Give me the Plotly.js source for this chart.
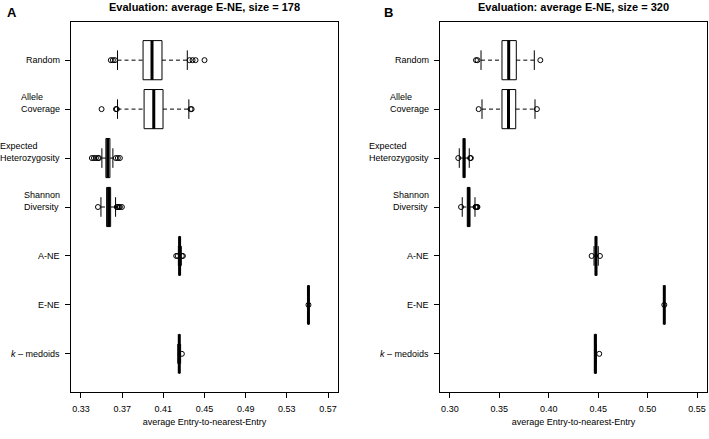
<!DOCTYPE html>
<html><head><meta charset="utf-8">
<script src="https://cdn.plot.ly/plotly-3.0.1.min.js"></script>
<style>html,body{margin:0;padding:0;background:#fff}#chart{width:709px;height:439px}</style>
</head><body><div id="chart"></div>
<script>
// ---- data ----
const methods = ['Random', 'Allele<br>Coverage', 'Expected<br>Heterozygosity', 'Shannon<br>Diversity', 'A-NE', 'E-NE', '<i>k</i> – medoids'];
const positions = [1, 2, 3, 4, 5, 6, 7];

const titleA = 'Evaluation: average E-NE, size = 178';
const titleB = 'Evaluation: average E-NE, size = 320';
const xTitle = 'average Entry-to-nearest-Entry';

const xTicksA = [0.33, 0.37, 0.41, 0.45, 0.49, 0.53, 0.57];
const xTicksB = [0.30, 0.35, 0.40, 0.45, 0.50, 0.55];

// Panel A (size = 178)
const q1A  = [0.3903, 0.3913, 0.3542, 0.3549, 0.4255, 0.5510, 0.4253];
const medA = [0.3990, 0.4007, 0.3560, 0.3568, 0.4258, 0.5510, 0.4255];
const q3A  = [0.4087, 0.4097, 0.3581, 0.3588, 0.4262, 0.5510, 0.4258];
const loA  = [0.3655, 0.3655, 0.3503, 0.3494, 0.4246, 0.5510, 0.4240];
const hiA  = [0.4333, 0.4348, 0.3610, 0.3636, 0.4275, 0.5510, 0.4268];
const outA = [
  [0.3590, 0.3610, 0.3630, 0.4355, 0.4384, 0.4413, 0.4500],
  [0.3500, 0.3640, 0.3648, 0.4365, 0.4375],
  [0.3406, 0.3426, 0.3445, 0.3465, 0.3474, 0.3639, 0.3658, 0.3678],
  [0.3465, 0.3648, 0.3658, 0.3668, 0.3678, 0.3697],
  [0.4225, 0.4240, 0.4280, 0.4290],
  [0.5510],
  [0.4280]
];

// Panel B (size = 320)
const q1B  = [0.3527, 0.3527, 0.3136, 0.3176, 0.4472, 0.5169, 0.4466];
const medB = [0.3595, 0.3593, 0.3143, 0.3190, 0.4478, 0.5169, 0.4471];
const q3B  = [0.3672, 0.3666, 0.3152, 0.3203, 0.4484, 0.5169, 0.4480];
const loB  = [0.3315, 0.3325, 0.3095, 0.3125, 0.4458, 0.5169, 0.4466];
const hiB  = [0.3854, 0.3861, 0.3196, 0.3254, 0.4501, 0.5169, 0.4480];
const outB = [
  [0.3264, 0.3279, 0.3915],
  [0.3291, 0.3880],
  [0.3085, 0.3205, 0.3212],
  [0.3113, 0.3259, 0.3264, 0.3269, 0.3274, 0.3279],
  [0.4434, 0.4518],
  [0.5169],
  [0.4511]
];

// ---- drawing ----
const FONT = 'Liberation Sans, Arial, Helvetica, sans-serif';
const INK = '#000';
const BOXW = 0.8;

function panelTraces(xa, ya, q1, med, q3, lo, hi, outs) {
  const traces = [];
  traces.push({
    type: 'box', orientation: 'h', xaxis: xa, yaxis: ya,
    y: positions, q1: q1, median: med, q3: q3, lowerfence: q1, upperfence: q3,
    width: BOXW, whiskerwidth: 0, boxpoints: false,
    line: {color: INK, width: 1}, fillcolor: '#fff', hoverinfo: 'skip', showlegend: false
  });
  const wx = [], wy = [];   // dashed whiskers
  const sx = [], sy = [];   // staples
  const mx = [], my = [];   // medians
  const ox = [], oy = [];   // outliers
  positions.forEach((p, i) => {
    if (lo[i] < q1[i]) { wx.push(lo[i], q1[i], null); wy.push(p, p, null); }
    if (hi[i] > q3[i]) { wx.push(q3[i], hi[i], null); wy.push(p, p, null); }
    sx.push(lo[i], lo[i], null, hi[i], hi[i], null);
    sy.push(p - BOXW / 4, p + BOXW / 4, null, p - BOXW / 4, p + BOXW / 4, null);
    mx.push(med[i], med[i], null);
    my.push(p - BOXW / 2, p + BOXW / 2, null);
    outs[i].forEach(v => { ox.push(v); oy.push(p); });
  });
  traces.push({type: 'scatter', mode: 'lines', xaxis: xa, yaxis: ya, x: wx, y: wy,
    line: {color: INK, width: 1, dash: '4px,3px'}, hoverinfo: 'skip', showlegend: false});
  traces.push({type: 'scatter', mode: 'lines', xaxis: xa, yaxis: ya, x: sx, y: sy,
    line: {color: INK, width: 1}, hoverinfo: 'skip', showlegend: false});
  traces.push({type: 'scatter', mode: 'lines', xaxis: xa, yaxis: ya, x: mx, y: my,
    line: {color: INK, width: 3}, hoverinfo: 'skip', showlegend: false});
  traces.push({type: 'scatter', mode: 'markers', xaxis: xa, yaxis: ya, x: ox, y: oy,
    marker: {symbol: 'circle-open', size: 5, color: INK, line: {width: 1, color: INK}},
    hoverinfo: 'skip', showlegend: false});
  return traces;
}

const data = [].concat(
  panelTraces('x', 'y', q1A, medA, q3A, loA, hiA, outA),
  panelTraces('x2', 'y2', q1B, medB, q3B, loB, hiB, outB)
);

function xAxis(domain, range, ticks, anchor) {
  return {
    domain: domain, range: range, anchor: anchor,
    tickvals: ticks, ticktext: ticks.map(t => t.toFixed(2)),
    ticks: 'outside', ticklen: 5, tickwidth: 1, tickcolor: INK,
    showline: true, linecolor: INK, linewidth: 1, mirror: true,
    showgrid: false, zeroline: false,
    tickfont: {family: FONT, size: 9, color: INK},
    ticklabelstandoff: 3,
    title: {text: xTitle, font: {family: FONT, size: 9, color: INK}, standoff: 5},
    automargin: false
  };
}
function yAxis(anchor) {
  return {
    domain: [0, 1], range: [7.78, 0.22], anchor: anchor,
    tickvals: positions, showticklabels: false,
    ticks: 'outside', ticklen: 5, tickwidth: 1, tickcolor: INK,
    showline: true, linecolor: INK, linewidth: 1, mirror: true,
    showgrid: false, zeroline: false, automargin: false
  };
}

const W = 709;
const annotations = [];
[['x', 'y'], ['x2', 'y2']].forEach(([xa, ya]) => {
  methods.forEach((m, i) => {
    const lines = m.split('<br>').length;
    annotations.push({
      text: m, xref: xa + ' domain', yref: ya, x: -11 / 267, y: positions[i],
      xanchor: 'right', yanchor: 'middle', align: 'left', showarrow: false,
      yshift: (lines - 1) * 6, borderpad: 0, borderwidth: 0,
      font: {family: FONT, size: 9, color: INK}
    });
  });
});
[['x', titleA], ['x2', titleB]].forEach(([xa, t]) => {
  annotations.push({
    text: '<b>' + t + '</b>', xref: xa + ' domain', yref: 'paper', x: 0.5, y: 1 + 15 / 370,
    xanchor: 'center', yanchor: 'middle', showarrow: false,
    font: {family: FONT, size: 11, color: INK}
  });
});
annotations.push({text: '<b>A</b>', xref: 'paper', yref: 'paper', x: 11.5 / W, y: 1 + 10 / 370,
  xanchor: 'center', yanchor: 'middle', showarrow: false, font: {family: FONT, size: 13, color: INK}});
annotations.push({text: '<b>B</b>', xref: 'paper', yref: 'paper', x: 388 / W, y: 1 + 10 / 370,
  xanchor: 'center', yanchor: 'middle', showarrow: false, font: {family: FONT, size: 13, color: INK}});

const layout = {
  width: 709, height: 439,
  margin: {l: 0, r: 0, t: 22, b: 47, pad: 0},
  paper_bgcolor: '#fff', plot_bgcolor: '#fff',
  showlegend: false, boxmode: 'overlay',
  font: {family: FONT, size: 9, color: INK},
  xaxis: xAxis([71 / W, 338 / W], [0.3203, 0.5797], xTicksA, 'y'),
  yaxis: yAxis('x'),
  xaxis2: xAxis([440 / W, 707 / W], [0.2900, 0.5601], xTicksB, 'y2'),
  yaxis2: yAxis('x2'),
  annotations: annotations
};

Plotly.newPlot('chart', data, layout, {displayModeBar: false, staticPlot: true});
</script>
</body></html>
